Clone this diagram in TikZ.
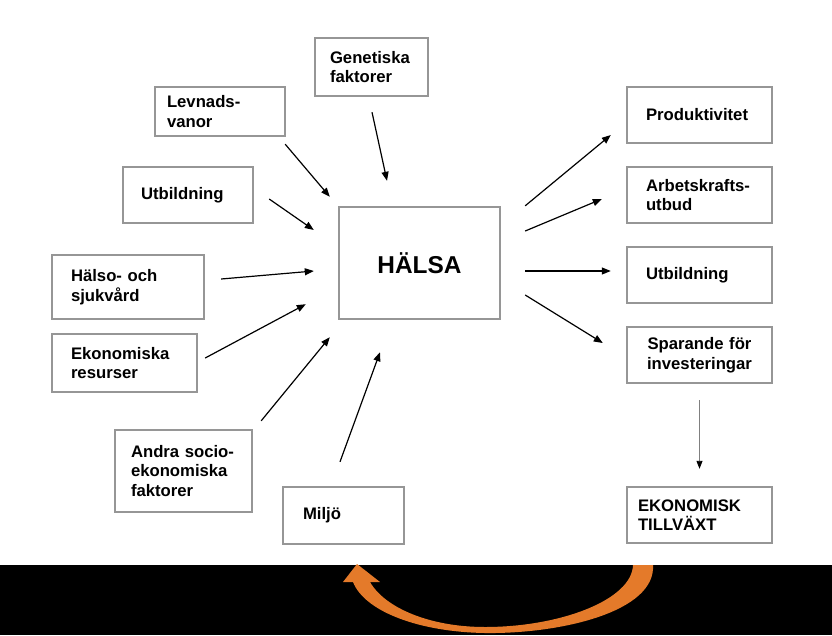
\documentclass[tikz,border=0pt]{standalone}
\usepackage{fontspec}
\setmainfont{Liberation Sans}
\usetikzlibrary{calc}
\usetikzlibrary{arrows.meta}
\definecolor{boxgray}{RGB}{150,150,150}
\definecolor{loopor}{RGB}{228,122,42}
\newcommand{\boxfont}{\fontsize{16.7}{19.5}\selectfont\bfseries}
\tikzset{
    box/.style={draw=boxgray, line width=2.4pt, inner ysep=0pt, minimum height=56pt, font=\boxfont, align=left},
    arr/.style={line width=1.2pt, -{Triangle[length=9pt,width=7pt]}},
}

\begin{document}
\begin{tikzpicture}[x=1pt, y=-1pt]
        \useasboundingbox (0,0) rectangle (832,635);

        % Central box
        \node[box, minimum width=161pt, minimum height=112pt, align=center, font=\fontsize{24.4}{28}\selectfont\bfseries] (hal) at (419.5,263) {HÄLSA};

        % Factors on the left
        \node[box, text width=83pt, inner xsep=15pt, minimum height=58pt] (gen) at (371.5,67) {Genetiska\\faktorer};
        \node[box, text width=106pt, inner xsep=12pt, minimum height=49pt] (lev) at (220,111.5) {Levnads-\\vanor};
        \node[box, text width=94pt, inner xsep=18pt] (utbL) at (188,195) {Utbildning};
        \node[box, text width=114pt, inner xsep=19pt, minimum height=64pt] (hs) at (128,287) {Hälso- och\\sjukvård};
        \node[box, text width=107pt, inner xsep=19pt, minimum height=58pt] (eko) at (124.5,363) {Ekonomiska\\resurser};
        \node[box, text width=105pt, inner xsep=16pt, minimum height=82pt] (andra) at (183.5,471) {Andra socio-\\ekonomiska\\faktorer};
        \node[box, text width=81pt, inner xsep=20pt, minimum height=57pt] (milj) at (343.5,515.5) {Miljö};

        % Effects on the right
        \node[box, text width=107pt, inner xsep=19pt] (prod) at (699.5,115) {Produktivitet};
        \node[box, text width=107pt, inner xsep=19pt] (arb) at (699.5,195) {Arbetskrafts-\\utbud};
        \node[box, text width=107pt, inner xsep=19pt] (utbR) at (699.5,275) {Utbildning};
        \node[box, text width=125pt, inner xsep=10pt, align=center] (spar) at (699.5,355) {Sparande för\\investeringar};
        \node[box, text width=123pt, inner xsep=11pt] (ekt) at (699.5,515) {EKONOMISK\\TILLVÄXT};

        % Arrows into HÄLSA
        \draw[arr] ($(gen.south)+(0.5,15)$) -- ($(hal.north)+(-32.5,-25)$);
        \draw[arr] ($(lev.south east)+(-1,7)$) -- ($(hal.north west)+(-8,-9)$);
        \draw[arr] ($(utbL.east)+(15,4)$) -- ($(hal.west)+(-24,-33)$);
        \draw[arr] ($(hs.east)+(16,-8)$) -- ($(hal.west)+(-24,8)$);
        \draw[arr] ($(eko.east)+(7,-5)$) -- ($(hal.south west)+(-32,-16)$);
        \draw[arr] ($(andra.north east)+(8,-8)$) -- ($(hal.south west)+(-8,17)$);
        \draw[arr] ($(milj.north)+(-3.5,-24)$) -- ($(hal.south)+(-39.5,32)$);

        % Arrows out of HÄLSA
        \draw[arr] ($(hal.north east)+(24,0)$) -- ($(prod.west)+(-15,20)$);
        \draw[arr] ($(hal.east)+(24,-32)$) -- ($(arb.west)+(-24,4)$);
        \draw[arr] ($(hal.east)+(24,8)$) -- ($(utbR.west)+(-15,-4)$);
        \draw[arr] ($(hal.east)+(24,32)$) -- ($(spar.west)+(-23,-12)$);
        \draw[line width=0.9pt, draw=gray, -{Triangle[length=8pt,width=6pt,color=black]}] ($(spar.south)+(0,16)$) -- ($(ekt.north)+(0,-17)$);

        % Black band with the orange loop
        \fill[black] (0,565) rectangle (832,635);
        \fill[loopor] (653,565) .. controls (656,612) and (560,634) .. (485,633)
            .. controls (420,632) and (365,612) .. (353,582) -- (343,582) -- (357,564) -- (380,582) -- (370,582)
            .. controls (385,608) and (430,627) .. (485,627)
            .. controls (560,627) and (632,600) .. (633,565) -- cycle;
\end{tikzpicture}
\end{document}
